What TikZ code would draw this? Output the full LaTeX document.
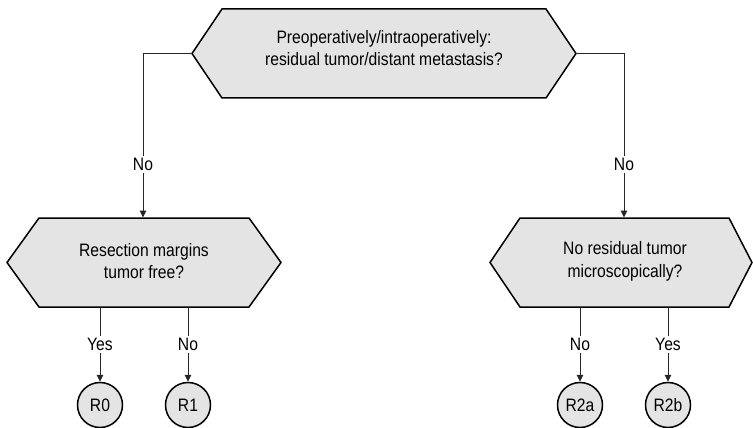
\documentclass[tikz,border=0pt]{standalone}
\usepackage{fontspec}
\setmainfont[FakeStretch=0.87]{Liberation Sans}
\usetikzlibrary{arrows.meta}
\definecolor{boxgray}{HTML}{E4E4E4}
\tikzset{
  hexa/.style={draw=black, line width=1.5pt, fill=boxgray, line join=miter},
  qtext/.style={align=center, font=\fontsize{18}{22.7}\selectfont, inner sep=0pt},
  conn/.style={line width=1pt, draw=black!85},
  arr/.style={conn, -{Triangle[length=7pt,width=6.5pt]}},
  lbl/.style={fill=white, inner sep=2pt, font=\fontsize{18}{20}\selectfont},
  endc/.style={circle, draw=black, line width=1.5pt, fill=boxgray, minimum size=45pt, inner sep=0pt, font=\fontsize{18}{20}\selectfont},
}
\begin{document}
\begin{tikzpicture}[x=1pt,y=-1pt]
\useasboundingbox (0,0) rectangle (753,428);
% hexagons
\draw[hexa] (192,53.5) -- (222,9) -- (546,9) -- (576,53.5) -- (546,98) -- (222,98) -- cycle;
\draw[hexa] (7,262.5) -- (39,218) -- (249,218) -- (281,262.5) -- (249,307) -- (39,307) -- cycle;
\draw[hexa] (490,262.5) -- (520,218) -- (729,218) -- (752,262.5) -- (729,307) -- (520,307) -- cycle;
% texts
\node[qtext] (top) at (384,48) {Preoperatively/intraoperatively:\\residual tumor/distant metastasis?};
\node[qtext] (left) at (144,261) {Resection margins\\tumor free?};
\node[qtext] (right) at (625,261) {No residual tumor\\microscopically?};
% anchor coordinates
\coordinate (Tw) at (192,53.5);
\coordinate (Te) at (576,53.5);
\coordinate (Ln) at (143,217.5);
\coordinate (Rn) at (624,217.5);
\coordinate (Ls1) at (100,307);
\coordinate (Ls2) at (188,307);
\coordinate (Rs1) at (580,307);
\coordinate (Rs2) at (668,307);
% end circles
\node[endc] (R0) at (100,405) {R0};
\node[endc] (R1) at (188,405) {R1};
\node[endc] (R2a) at (580,405) {R2a};
\node[endc] (R2b) at (668,405) {R2b};
% connectors
\draw[arr] (Tw) -| node[lbl, pos=0.839] {No} (Ln);
\draw[arr] (Te) -| node[lbl, pos=0.839] {No} (Rn);
\draw[arr] (Ls1) -- node[lbl] {Yes} (R0);
\draw[arr] (Ls2) -- node[lbl] {No} (R1);
\draw[arr] (Rs1) -- node[lbl] {No} (R2a);
\draw[arr] (Rs2) -- node[lbl] {Yes} (R2b);
\end{tikzpicture}
\end{document}
